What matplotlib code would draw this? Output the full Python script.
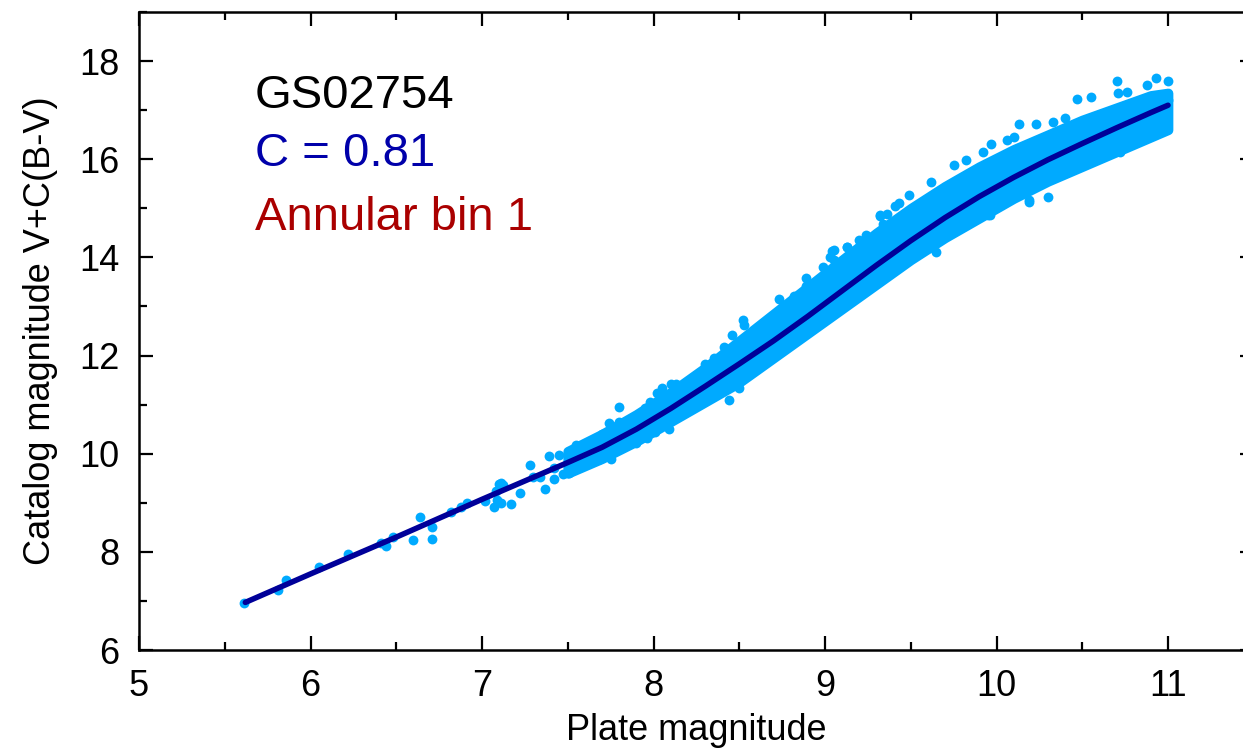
import matplotlib.pyplot as plt
from matplotlib.ticker import MultipleLocator

plt.rcParams['font.family'] = ['Liberation Sans', 'DejaVu Sans']

# calibration curve
curve_x = [5.62, 6.0, 6.5, 7.0, 7.3, 7.5, 7.7, 7.9, 8.1, 8.3, 8.5, 8.7,
           8.9, 9.1, 9.3, 9.5, 9.7, 9.9, 10.1, 10.3, 10.5, 10.7, 10.9, 11.0]
curve_y = [6.97, 7.55, 8.30, 9.07, 9.52, 9.82, 10.13, 10.50, 10.92, 11.37,
           11.83, 12.30, 12.80, 13.32, 13.84, 14.34, 14.81, 15.24, 15.63,
           15.99, 16.32, 16.64, 16.95, 17.10]

# dense core of the star cloud: upper / lower edge
band_x = [7.5, 7.7, 7.9, 8.1, 8.3, 8.5, 8.7, 8.9, 9.1, 9.3, 9.5, 9.7, 9.9,
          10.1, 10.3, 10.5, 10.7, 10.9, 11.0]
band_hi = [10.05, 10.4, 10.8, 11.25, 11.75, 12.3, 12.85, 13.4, 13.95,
           14.5, 15.0, 15.45, 15.85, 16.2, 16.5, 16.8, 17.05, 17.3, 17.35]
band_lo = [9.6, 9.9, 10.25, 10.65, 11.05, 11.45, 11.95, 12.45, 12.95, 13.45,
           13.95, 14.4, 14.8, 15.2, 15.55, 15.85, 16.15, 16.45, 16.6]

# individual stars
star_x = [5.61, 5.81, 5.86, 6.05, 6.22, 6.41, 6.44, 6.48, 6.60, 6.64, 6.71,
          6.71, 6.82, 6.88, 6.91, 7.02, 7.08, 7.10, 7.12, 7.09, 7.07, 7.11,
          7.17, 7.22, 7.28, 7.30, 7.34, 7.37, 7.39, 7.42, 7.42, 7.45, 7.47,
          7.51, 7.55, 7.57, 7.59, 7.63, 7.67, 7.80, 7.67, 7.70, 7.74, 7.80,
          7.83, 7.88, 7.95, 7.98, 8.02, 8.05, 8.10, 8.13, 7.96, 8.01, 8.09,
          7.75, 7.69, 7.11, 7.77, 7.84, 7.90, 8.08, 8.09, 8.73, 8.82, 8.89,
          8.89, 9.04, 9.03, 9.13, 9.20, 8.99, 8.52, 8.53, 8.46, 8.41, 8.44,
          8.30, 8.35, 8.66, 8.74, 8.78, 10.13, 10.23, 9.97, 9.92, 9.82, 9.75,
          9.62, 9.49, 9.43, 9.32, 9.34, 9.24, 9.13, 9.65, 10.19, 10.15, 9.95,
          10.06, 10.10, 10.70, 10.93, 11.00, 10.88, 10.71, 10.76, 10.55,
          10.47, 10.33, 10.40, 10.72, 10.30, 10.19, 10.76, 10.99, 11.00,
          10.90, 10.60, 10.49, 10.21, 8.44, 8.50, 9.05, 9.32, 9.36, 9.41,
          9.05, 9.96, 8.27]
star_y = [6.96, 7.22, 7.43, 7.70, 7.96, 8.19, 8.12, 8.31, 8.25, 8.71, 8.50,
          8.27, 8.82, 8.91, 8.99, 9.04, 9.24, 9.38, 9.36, 9.05, 8.91, 8.99,
          8.97, 9.19, 9.76, 9.52, 9.52, 9.29, 9.96, 9.70, 9.48, 9.98, 9.58,
          9.60, 10.17, 9.73, 10.07, 9.88, 10.09, 10.96, 10.30, 10.40, 10.62,
          10.65, 10.48, 10.68, 10.94, 11.06, 11.23, 11.33, 11.42, 11.43,
          10.31, 10.45, 10.50, 9.90, 9.90, 9.40, 10.14, 10.21, 10.21, 10.68,
          10.96, 13.16, 13.21, 13.59, 13.41, 14.13, 14.01, 14.21, 14.36,
          13.80, 12.72, 12.62, 12.42, 12.18, 12.10, 11.82, 11.94, 12.65,
          12.92, 12.99, 16.71, 16.71, 16.32, 16.15, 15.98, 15.88, 15.54,
          15.27, 15.10, 14.86, 14.69, 14.45, 14.21, 14.11, 15.16, 15.31,
          14.86, 16.39, 16.45, 17.59, 17.66, 17.59, 17.51, 17.35, 17.37,
          17.26, 17.22, 16.76, 16.85, 16.15, 15.23, 15.13, 16.42, 16.83,
          17.20, 16.66, 16.18, 16.05, 15.47, 11.09, 11.33, 14.15, 14.84,
          14.89, 15.04, 13.94, 14.86, 11.09]

star_color = '#00aaff'
line_color = '#000099'

fig = plt.figure(figsize=(12.43, 7.52), dpi=100)
ax = fig.add_axes([139 / 1243, 1 - 650 / 752, 1114.75 / 1243, 638 / 752])

ax.fill_between(band_x, band_lo, band_hi, color=star_color, lw=7,
                edgecolor=star_color, joinstyle='round', zorder=1)
ax.scatter(star_x, star_y, s=50, color=star_color, linewidths=0, zorder=2)
ax.plot(curve_x, curve_y, color=line_color, lw=4, zorder=3,
        solid_capstyle='round', solid_joinstyle='round')

ax.set_xlim(5, 11.5)
ax.set_ylim(6, 19)
ax.xaxis.set_major_locator(MultipleLocator(1))
ax.xaxis.set_minor_locator(MultipleLocator(0.5))
ax.yaxis.set_major_locator(MultipleLocator(2))
ax.yaxis.set_minor_locator(MultipleLocator(1))
ax.tick_params(which='both', direction='in', top=True, right=True,
               width=1.6, labelsize=26)
ax.tick_params(which='major', length=10)
ax.tick_params(which='minor', length=5.5)
ax.tick_params(axis='x', pad=14)
ax.tick_params(axis='y', pad=14)
for s in ax.spines.values():
    s.set_linewidth(1.8)

ax.set_xlabel('Plate magnitude', fontsize=26, labelpad=6)
ax.set_ylabel('Catalog magnitude V+C(B-V)', fontsize=26, labelpad=15)

ax.text(5.676, 17.04, 'GS02754', fontsize=34, color='black', va='baseline')
ax.text(5.676, 15.86, 'C = 0.81', fontsize=34, color='#0000aa', va='baseline')
ax.text(5.676, 14.55, 'Annular bin 1', fontsize=34, color='#aa0000',
        va='baseline')

fig.savefig('out.png', dpi=100)
